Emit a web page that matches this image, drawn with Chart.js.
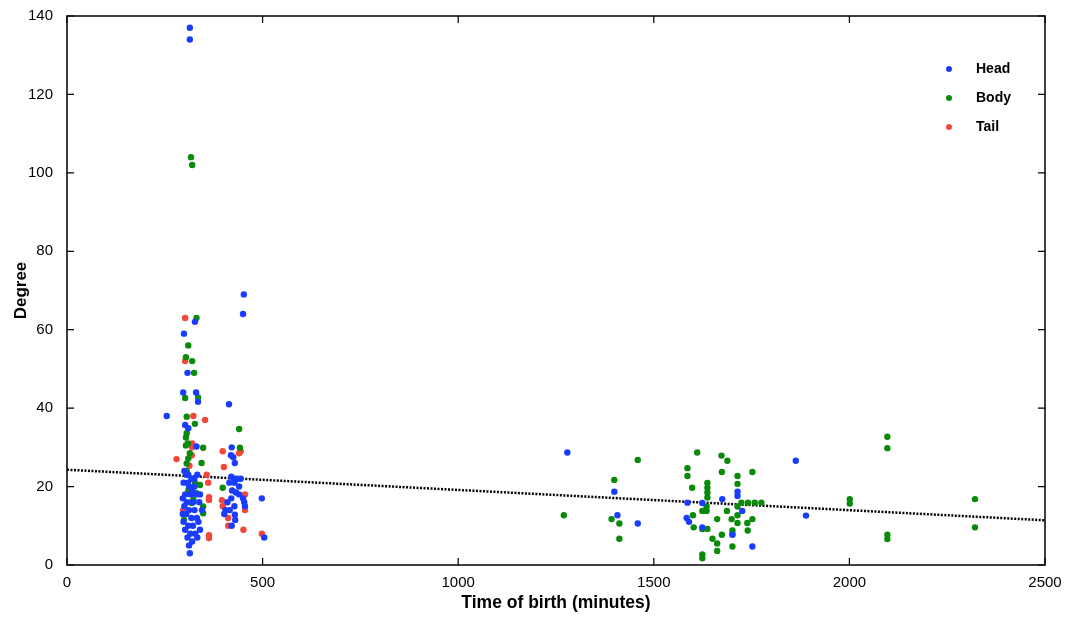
<!DOCTYPE html>
<html>
<head>
<meta charset="utf-8">
<script src="https://cdn.jsdelivr.net/npm/chart.js@4.4.0/dist/chart.umd.min.js"></script>
<style>
  html, body { margin: 0; padding: 0; background: #fff; }
  #wrap { width: 1067px; height: 618px; }
</style>
</head>
<body>
<div id="wrap"><canvas id="scatter" width="1067" height="618"></canvas></div>
<script>
// values (x = minutes, y = degree)
const headX = [314, 314, 327, 299, 308, 297, 330, 335, 255, 302, 310, 331, 452, 450, 414,
  300, 305, 310, 318, 325, 333, 298, 312, 320, 302, 316, 330, 340, 296, 306, 322, 338, 300, 312, 326,
  305, 318, 332, 298, 310, 322, 336, 302, 315, 328, 340, 308, 320, 333, 312, 314, 345, 296, 326, 309,
  421, 419, 425, 429, 420, 430, 436, 444, 415, 428, 440, 422, 432, 450, 453, 455, 420, 410, 428, 405,
  416, 429, 430, 421, 498, 504, 402, 440,
  1279, 1399, 1407, 1459, 1624, 1675, 1586, 1584, 1590, 1714, 1714, 1726, 1624, 1701, 1752, 1863, 1889];
const headY = [137, 134, 62, 59, 49, 44, 44, 41.6, 38, 35.7, 34.9, 30.2, 69, 64, 41,
  24, 23, 23, 22, 22, 23, 21, 20, 19, 18, 18, 18, 18, 17, 16, 16, 16, 15, 14, 14,
  13, 12, 12, 11, 10, 10, 11, 9, 8, 8, 9, 7, 6, 7, 5, 3, 14, 13, 20, 21,
  30, 28, 27.5, 26, 22.5, 22, 22, 22, 21, 21, 20, 19, 18.5, 17, 16, 15, 17, 16, 15, 14,
  14, 12.8, 11.5, 10, 17, 7, 13, 18,
  28.7, 18.7, 12.7, 10.6, 15.8, 16.8, 15.9, 12, 11, 17.6, 18.7, 13.8, 9.6, 7.7, 4.7, 26.6, 12.6];

const bodyX = [317, 320, 331, 310, 304, 320, 325, 302, 335, 306, 327, 306, 304, 309, 304, 348, 314,
  310, 344, 306, 306, 327, 340, 331, 323, 319, 348, 299, 348, 312, 440, 442, 398,
  1270, 1459, 1399, 1392, 1412, 1412, 1611, 1673, 1688, 1586, 1586, 1674, 1714, 1752, 1598, 1714,
  1637, 1637, 1637, 1637, 1724, 1741, 1758, 1775, 1635, 1635, 1624, 1714, 1687, 1600, 1714, 1662,
  1699, 1752, 1714, 1739, 1602, 1624, 1637, 1701, 1701, 1740, 1650, 1674, 1662, 1662, 1701, 1624, 1624,
  2001, 2001, 2097, 2097, 2097, 2097, 2321, 2321];
const bodyY = [104, 102, 63, 56, 53, 52, 49, 42.6, 42.7, 37.8, 36, 33.6, 32.5, 31, 30.5, 29.9, 28.5,
  27.2, 26, 25.9, 24, 21, 20.4, 18.3, 16.6, 15.8, 14.9, 11.5, 13.2, 19, 34.7, 29.9, 19.7,
  12.7, 26.8, 21.7, 11.7, 10.6, 6.7, 28.7, 27.9, 26.6, 24.7, 22.7, 23.7, 22.7, 23.7, 19.7, 20.7,
  20.9, 19.7, 18.5, 17.2, 15.9, 15.9, 15.9, 15.9, 14.9, 13.8, 13.8, 14.9, 13.8, 12.7, 12.7, 11.7,
  11.7, 11.7, 10.7, 10.7, 9.6, 9.2, 9.2, 8.8, 7.9, 8.8, 6.7, 7.7, 5.5, 3.6, 4.7, 2.7, 1.7,
  15.7, 16.8, 32.7, 29.8, 6.6, 7.7, 16.8, 9.6];

const tailX = [302, 302, 323, 353, 320, 320, 319, 280, 357, 361, 363, 363, 297, 363, 363, 313, 310, 316, 325,
  398, 444, 440, 401, 455, 396, 398, 455, 412, 412, 451, 498];
const tailY = [63, 52, 38, 37, 31, 30, 28, 27, 23, 21, 17.3, 16.6, 14, 7.6, 6.9, 25.3, 19, 16, 22,
  29, 29, 28.5, 25, 18, 16.5, 15, 14, 12, 10, 9, 8];

const trendX = [0, 2500];
const trendY = [24.3, 11.4];

const xTicks = [0, 500, 1000, 1500, 2000, 2500];
const yTicks = [0, 20, 40, 60, 80, 100, 120, 140];

const seriesNames = ['Head', 'Body', 'Tail'];
const seriesColors = ['#1a3cff', '#0a8a0a', '#f4473c'];

const toPoints = (xs, ys) => xs.map((x, i) => ({ x: x, y: ys[i] }));

// frame, inward ticks and the legend inside the plot
const framePlugin = {
  id: 'frame',
  afterDraw(chart) {
    const { ctx, chartArea: a, scales } = chart;
    ctx.save();
    ctx.strokeStyle = '#000';
    ctx.lineWidth = 1.5;
    ctx.strokeRect(a.left, a.top, a.right - a.left, a.bottom - a.top);
    ctx.lineWidth = 1.2;
    ctx.beginPath();
    xTicks.forEach(v => {
      const px = scales.x.getPixelForValue(v);
      ctx.moveTo(px, a.bottom); ctx.lineTo(px, a.bottom - 7);
      ctx.moveTo(px, a.top); ctx.lineTo(px, a.top + 7);
    });
    yTicks.forEach(v => {
      const py = scales.y.getPixelForValue(v);
      ctx.moveTo(a.left, py); ctx.lineTo(a.left + 7, py);
      ctx.moveTo(a.right, py); ctx.lineTo(a.right - 7, py);
    });
    ctx.stroke();

    // legend
    ctx.font = 'bold 14px "Liberation Sans", Arial, sans-serif';
    ctx.textBaseline = 'middle';
    seriesNames.forEach((name, i) => {
      const y = a.top + 53 + i * 29;
      ctx.fillStyle = seriesColors[i];
      ctx.beginPath();
      ctx.arc(a.left + 882, y, 3, 0, Math.PI * 2);
      ctx.fill();
      ctx.fillStyle = '#000';
      ctx.fillText(name, a.left + 909, y);
    });
    ctx.restore();
  }
};

const ctx = document.getElementById('scatter');

const myChart = new Chart(ctx, {
  type: 'scatter',
  data: {
    datasets: [
      {
        label: seriesNames[0],
        data: toPoints(headX, headY),
        backgroundColor: seriesColors[0],
        borderWidth: 0,
        pointRadius: 3.2
      },
      {
        label: seriesNames[1],
        data: toPoints(bodyX, bodyY),
        backgroundColor: seriesColors[1],
        borderWidth: 0,
        pointRadius: 3.2
      },
      {
        label: seriesNames[2],
        data: toPoints(tailX, tailY),
        backgroundColor: seriesColors[2],
        borderWidth: 0,
        pointRadius: 3.2
      },
      {
        label: 'Trend',
        type: 'line',
        data: toPoints(trendX, trendY),
        borderColor: '#000',
        borderWidth: 2.5,
        borderDash: [2, 1.5],
        pointRadius: 0,
        fill: false
      }
    ]
  },
  options: {
    responsive: false,
    animation: false,
    layout: { padding: { left: 7, right: 22, top: 16, bottom: 0 } },
    plugins: {
      legend: { display: false },
      tooltip: { enabled: false }
    },
    scales: {
      x: {
        type: 'linear',
        min: 0,
        max: 2500,
        afterBuildTicks: scale => { scale.ticks = xTicks.map(v => ({ value: v })); },
        afterFit: scale => { scale.height = 53; },
        grid: { display: false },
        border: { display: false },
        ticks: {
          color: '#000',
          padding: 1,
          maxRotation: 0,
          callback: v => String(v),
          font: { family: '"Liberation Sans", Arial, sans-serif', size: 15 }
        },
        title: {
          display: true,
          text: 'Time of birth (minutes)',
          color: '#000',
          padding: { top: 5 },
          font: { family: '"Liberation Sans", Arial, sans-serif', size: 17.5, weight: 'bold' }
        }
      },
      y: {
        type: 'linear',
        min: 0,
        max: 140,
        afterBuildTicks: scale => { scale.ticks = yTicks.map(v => ({ value: v })); },
        afterFit: scale => { scale.width = 60; },
        grid: { display: false },
        border: { display: false },
        ticks: {
          color: '#000',
          padding: 6,
          font: { family: '"Liberation Sans", Arial, sans-serif', size: 15 }
        },
        title: {
          display: true,
          text: 'Degree',
          color: '#000',
          padding: { bottom: 2 },
          font: { family: '"Liberation Sans", Arial, sans-serif', size: 17, weight: 'bold' }
        }
      }
    }
  },
  plugins: [framePlugin]
});
</script>
</body>
</html>
